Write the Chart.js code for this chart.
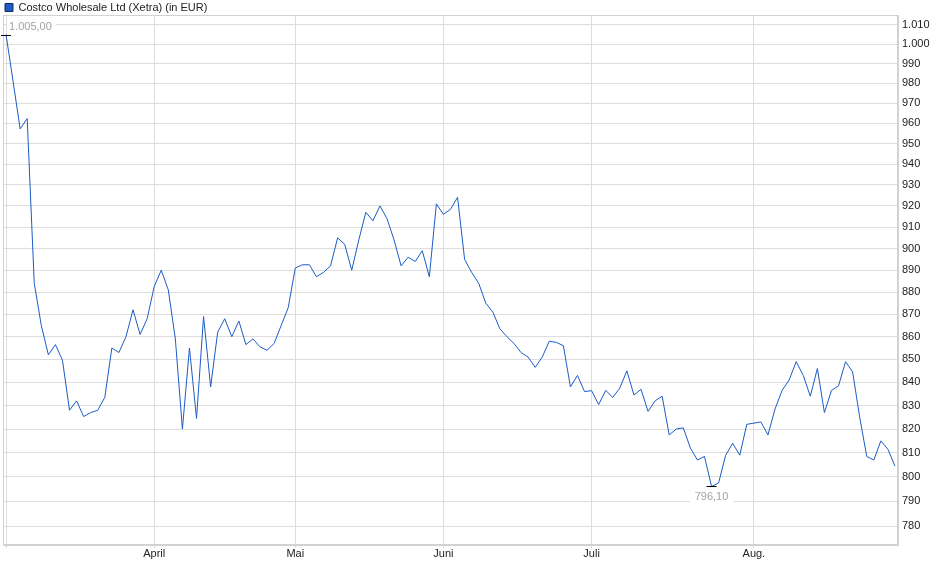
<!DOCTYPE html>
<html lang="de">
<head>
<meta charset="utf-8">
<title>Costco Wholesale Ltd (Xetra)</title>
<script src="https://cdn.jsdelivr.net/npm/chart.js@4.4.1/dist/chart.umd.min.js"></script>
<style>
  html, body { margin: 0; padding: 0; background: #fff; }
  canvas { display: block; }
</style>
</head>
<body>
<canvas id="chart" width="940" height="579"></canvas>
<script>
// Schlusskurse je Handelstag (Xetra), März bis Ende August
const seriesName = 'Costco Wholesale Ltd (Xetra) (in EUR)';
const prices = [
  1005.0, 981, 957.3, 962.4, 884, 865, 852, 856.5, 849.6, 828,
  832, 825.3, 827, 828, 833.5, 855, 853, 860, 872, 861,
  868, 882.5, 890, 881, 859, 820, 855, 824.5, 869, 838,
  862, 868, 860, 867, 856.5, 859, 855.5, 854, 857, 865,
  873, 891, 892.5, 892.5, 887, 889, 892, 905, 902, 890,
  904, 917, 913, 920, 914, 904, 892, 896, 894, 899,
  887, 921, 916, 918.4, 924.1, 895, 889, 884, 875, 871,
  863.5, 860, 857, 853, 851, 846.5, 851, 858, 857.5, 856,
  838, 843, 836, 836.4, 830.4, 836.5, 833.5, 837.5, 845, 834.5,
  837, 827.5, 832, 834, 817.5, 820, 820.5, 812, 807, 808.5,
  796.1, 797.5, 809, 814, 809, 822, 822.5, 823, 817.5, 828.5,
  836.5, 841, 849, 843, 834, 846, 827, 836.5, 838.5, 849,
  844.5, 825, 808.5, 807, 815, 811.5, 804.5
];

// erster Handelstag je Monat (Index in prices) und Beschriftung
const monthStarts = [0, 21, 41, 62, 83, 106];
const monthLabels = ['', 'April', 'Mai', 'Juni', 'Juli', 'Aug.'];

const yTicks = [780, 790, 800, 810, 820, 830, 840, 850, 860, 870, 880, 890,
                900, 910, 920, 930, 940, 950, 960, 970, 980, 990, 1000, 1010];

const FONT  = '"Liberation Sans", Arial, sans-serif';
const GRID  = '#dddddd';
const FRAME = '#d2d2d2';

// deutsches Zahlenformat: 1.005,00
function fmtDe(v, dec) {
  const parts = v.toFixed(dec).split('.');
  parts[0] = parts[0].replace(/\B(?=(\d{3})+(?!\d))/g, '.');
  return parts.join(',');
}

// Legende flacher machen, damit die Zeichenfläche bei y=15 beginnt
const legendFit = {
  id: 'legendFit',
  beforeInit(chart) {
    if (!chart.legend) return;
    const fit = chart.legend.fit;
    chart.legend.fit = function () { fit.call(this); this.height = 15; };
  }
};

// Rahmen um die Zeichenfläche
const plotFrame = {
  id: 'plotFrame',
  beforeDatasetsDraw(chart) {
    const { ctx, chartArea: a } = chart;
    ctx.save();
    ctx.strokeStyle = FRAME;
    ctx.lineWidth = 1;
    ctx.strokeRect(Math.round(a.left) + 0.5, Math.round(a.top) + 0.5,
                   Math.round(a.right - a.left) - 1, Math.round(a.bottom - a.top) - 1);
    ctx.restore();
  }
};

// Hoch- und Tiefpunkt markieren
const extremaLabels = {
  id: 'extremaLabels',
  afterDatasetsDraw(chart) {
    const { ctx, scales: { x, y } } = chart;
    const hi = prices.indexOf(Math.max(...prices));
    const lo = prices.indexOf(Math.min(...prices));
    ctx.save();
    ctx.font = '11px ' + FONT;
    ctx.textBaseline = 'middle';

    const mark = (px, py) => {
      ctx.strokeStyle = '#000';
      ctx.lineWidth = 1;
      ctx.beginPath();
      ctx.moveTo(px - 5, Math.round(py) + 0.5);
      ctx.lineTo(px + 5, Math.round(py) + 0.5);
      ctx.stroke();
    };

    let px = x.getPixelForValue(hi), py = y.getPixelForValue(prices[hi]);
    let txt = fmtDe(prices[hi], 2), w = ctx.measureText(txt).width;
    ctx.fillStyle = '#fff';
    ctx.fillRect(px + 1, py - 14, w + 6, 12);
    ctx.fillStyle = '#a3a3a3';
    ctx.textAlign = 'left';
    ctx.fillText(txt, px + 3, py - 8);
    mark(px, py);

    px = x.getPixelForValue(lo); py = y.getPixelForValue(prices[lo]);
    txt = fmtDe(prices[lo], 2); w = ctx.measureText(txt).width;
    ctx.fillStyle = '#fff';
    ctx.fillRect(px - w / 2 - 5, py + 4, w + 10, 13);
    ctx.fillStyle = '#a3a3a3';
    ctx.textAlign = 'center';
    ctx.fillText(txt, px, py + 11);
    mark(px, py);
    ctx.restore();
  }
};

new Chart(document.getElementById('chart'), {
  type: 'line',
  data: {
    datasets: [{
      label: seriesName,
      data: prices.map((v, i) => ({ x: i, y: v })),
      borderColor: '#1c5bc6',
      backgroundColor: '#1f5bc0',
      borderWidth: 1,
      pointRadius: 0,
      tension: 0,
      fill: false
    }]
  },
  options: {
    responsive: false,
    animation: false,
    layout: { padding: { left: 3, right: 0, top: 0, bottom: 0 } },
    plugins: {
      legend: {
        position: 'top',
        align: 'start',
        labels: {
          boxWidth: 8,
          boxHeight: 8,
          padding: 2,
          color: '#222',
          font: { size: 11, family: FONT },
          generateLabels: chart => Chart.defaults.plugins.legend.labels.generateLabels(chart)
            .map(l => Object.assign(l, { fillStyle: '#1f5bc0', strokeStyle: '#0f2b63', lineWidth: 1 }))
        }
      },
      tooltip: { enabled: false }
    },
    scales: {
      x: {
        type: 'linear',
        min: -0.43,
        max: prices.length - 1 + 0.43,
        afterBuildTicks: s => { s.ticks = monthStarts.map(v => ({ value: v })); },
        afterFit: s => { s.height = 34; },
        ticks: {
          autoSkip: false,
          maxRotation: 0,
          padding: 0,
          color: '#222',
          font: { size: 11, family: FONT, lineHeight: 1 },
          callback: (v, i) => monthLabels[i]
        },
        grid: { color: GRID, tickLength: 3, drawTicks: true },
        border: { color: FRAME }
      },
      y: {
        type: 'logarithmic',
        position: 'right',
        min: 772.4,
        max: 1015.2,
        afterBuildTicks: s => { s.ticks = yTicks.map(v => ({ value: v })); },
        afterFit: s => { s.width = 42; },
        ticks: {
          padding: 4,
          color: '#222',
          font: { size: 11, family: FONT },
          callback: v => fmtDe(v, 0)
        },
        grid: { color: GRID, drawTicks: false },
        border: { color: FRAME }
      }
    }
  },
  plugins: [legendFit, plotFrame, extremaLabels]
});
</script>
</body>
</html>
